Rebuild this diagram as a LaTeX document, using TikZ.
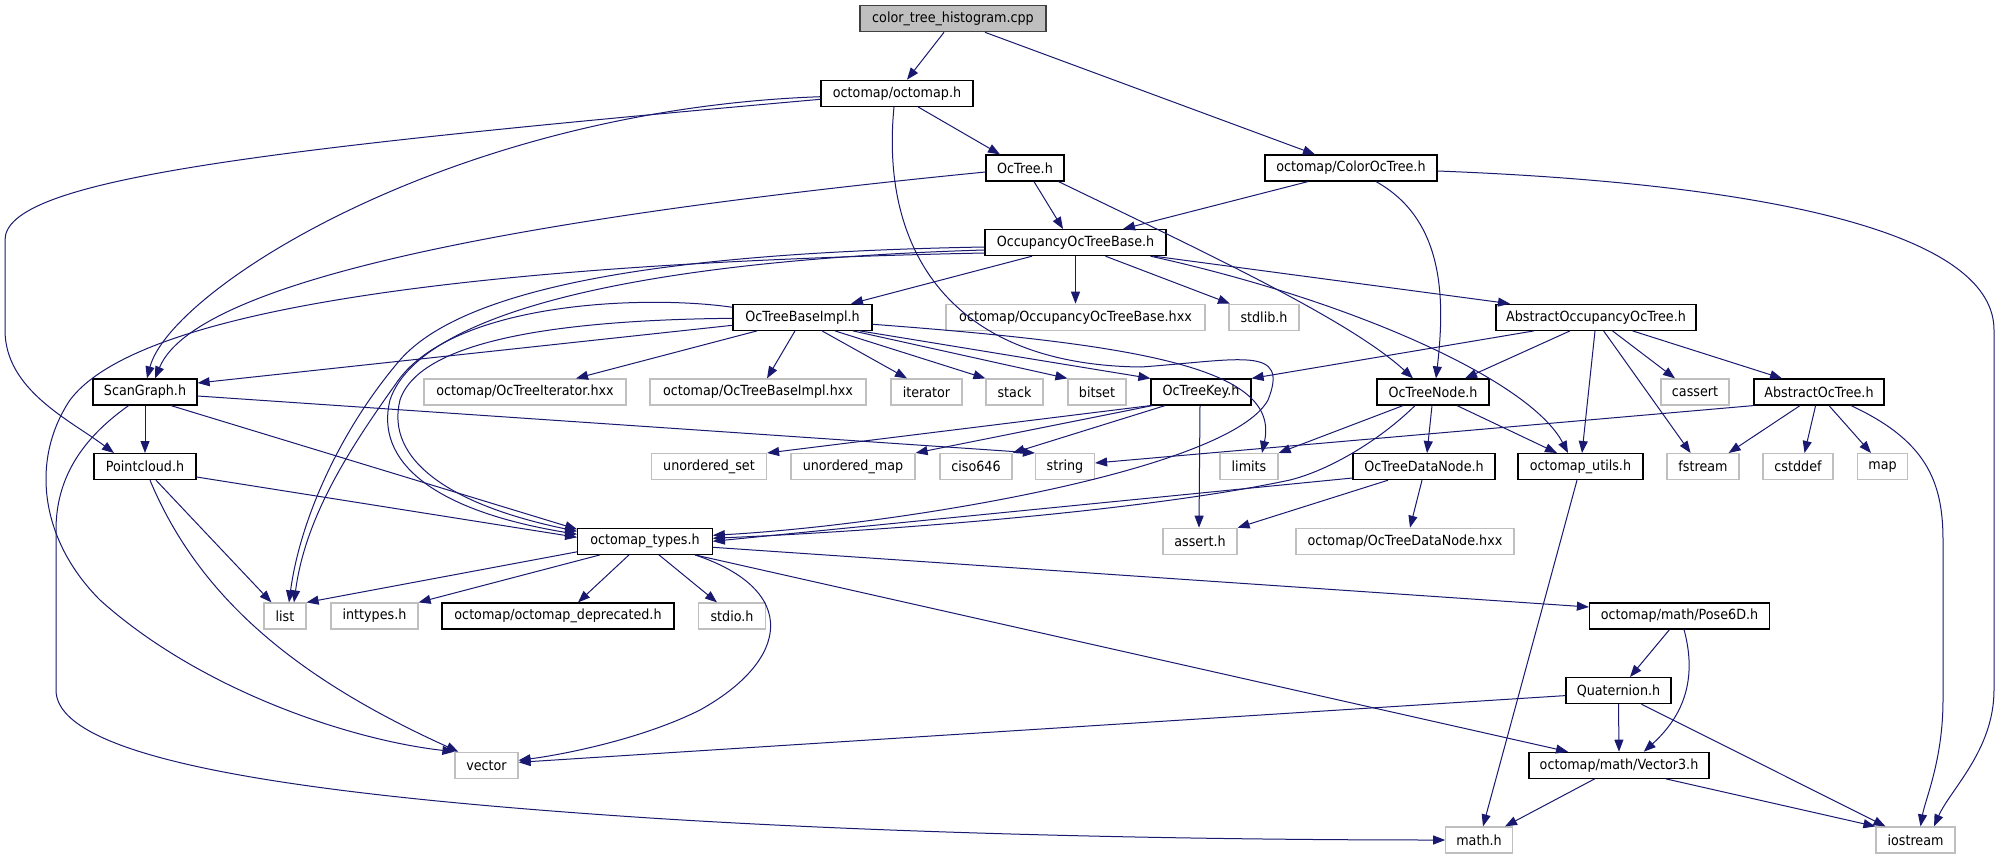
\documentclass[tikz,border=0pt]{standalone}
\usepackage{fontspec}
\newfontfamily\gvfont{DejaVu Sans}[FakeStretch=0.91]
\usetikzlibrary{arrows.meta}
\definecolor{edgeblue}{HTML}{191970}
\definecolor{lgrey}{HTML}{BFBFBF}
\definecolor{dgrey}{HTML}{404040}
\begin{document}
\begin{tikzpicture}[x=1pt,y=-1pt,
  box/.style={line width=1.2pt, minimum height=26pt, inner sep=0pt, font=\gvfont\fontsize{14pt}{16pt}\selectfont, anchor=center},
  doc/.style={box, draw=black},
  sys/.style={box, draw=lgrey},
  root/.style={box, draw=dgrey, fill=lgrey},
  conn/.style={draw=edgeblue, line width=1pt, -{Triangle[length=12pt,width=9pt]}},
]
\fill[white] (0,0) rectangle (2008,859);
\useasboundingbox (0,0) rectangle (2008,859);

% row 0
\node[root, minimum width=186pt] (cpp) at (953,18.7) {color\_tree\_histogram.cpp};
% row 1
\node[doc, minimum width=152pt] (octomap) at (897,93.3) {octomap/octomap.h};
% row 2
\node[doc, minimum width=78pt] (octree) at (1025,168) {OcTree.h};
\node[doc, minimum width=172pt] (color) at (1351,168) {octomap/ColorOcTree.h};
% row 3
\node[doc, minimum width=181pt] (occbase) at (1075.5,242.6) {OccupancyOcTreeBase.h};
% row 4
\node[doc, minimum width=139pt] (baseimpl) at (802.5,317.3) {OcTreeBaseImpl.h};
\node[sys, minimum width=259pt] (occhxx) at (1075.5,317.3) {octomap/OccupancyOcTreeBase.hxx};
\node[sys, minimum width=70pt] (stdlib) at (1264,317.3) {stdlib.h};
\node[doc, minimum width=200pt] (absocc) at (1596,317.3) {AbstractOccupancyOcTree.h};
% row 5
\node[doc, minimum width=104pt] (scangraph) at (145,392) {ScanGraph.h};
\node[sys, minimum width=202pt] (iterhxx) at (525,392) {octomap/OcTreeIterator.hxx};
\node[sys, minimum width=216pt] (implhxx) at (758,392) {octomap/OcTreeBaseImpl.hxx};
\node[sys, minimum width=71pt] (iterator) at (926.5,392) {iterator};
\node[sys, minimum width=57pt] (stack) at (1014.5,392) {stack};
\node[sys, minimum width=58pt] (bitset) at (1097,392) {bitset};
\node[doc, minimum width=100pt] (key) at (1201,392) {OcTreeKey.h};
\node[doc, minimum width=112pt] (treenode) at (1433,392) {OcTreeNode.h};
\node[sys, minimum width=68pt] (cassert) at (1695,392) {cassert};
\node[doc, minimum width=130pt] (absoctree) at (1819,392) {AbstractOcTree.h};
% row 6
\node[doc, minimum width=102pt] (pointcloud) at (145,466.6) {Pointcloud.h};
\node[sys, minimum width=115pt] (uset) at (709,466.6) {unordered\_set};
\node[sys, minimum width=124pt] (umap) at (853,466.6) {unordered\_map};
\node[sys, minimum width=72pt] (ciso) at (976,466.6) {ciso646};
\node[sys, minimum width=59pt] (string) at (1065,466.6) {string};
\node[sys, minimum width=58pt] (limits) at (1249,466.6) {limits};
\node[doc, minimum width=142pt] (datanode) at (1424,466.6) {OcTreeDataNode.h};
\node[doc, minimum width=125pt] (utils) at (1580.5,466.6) {octomap\_utils.h};
\node[sys, minimum width=72pt] (fstream) at (1703,466.6) {fstream};
\node[sys, minimum width=70pt] (cstddef) at (1798,466.6) {cstddef};
\node[sys, minimum width=50pt] (map) at (1882.6,466.6) {map};
% row 7
\node[doc, minimum width=134.5pt] (types) at (645,541.3) {octomap\_types.h};
\node[sys, minimum width=74pt] (assert) at (1200,541.3) {assert.h};
\node[sys, minimum width=218pt] (datahxx) at (1405,541.3) {octomap/OcTreeDataNode.hxx};
% row 8
\node[sys, minimum width=42pt] (list) at (285,616) {list};
\node[sys, minimum width=87pt] (inttypes) at (374.5,616) {inttypes.h};
\node[doc, minimum width=232pt] (deprecated) at (558,616) {octomap/octomap\_deprecated.h};
\node[sys, minimum width=66.5pt] (stdio) at (732,616) {stdio.h};
\node[doc, minimum width=180pt] (pose) at (1679.5,616) {octomap/math/Pose6D.h};
% row 9
\node[doc, minimum width=105pt] (quat) at (1618.5,690.6) {Quaternion.h};
% row 10
\node[sys, minimum width=63pt] (vector) at (486.5,765.3) {vector};
\node[doc, minimum width=180pt] (vec3) at (1619,765.3) {octomap/math/Vector3.h};
% row 11
\node[sys, minimum width=66.5pt] (math) at (1479,840) {math.h};
\node[sys, minimum width=79pt] (iostream) at (1915.5,840) {iostream};

% ---- edges ----
\draw[conn] ([xshift=-9pt]cpp.south) -- ([xshift=10pt]octomap.north);
\draw[conn] ([xshift=32pt]cpp.south) -- ([xshift=-36pt]color.north);
\draw[conn] ([xshift=21pt]octomap.south) -- ([xshift=-25pt]octree.north);
\draw[conn] ([yshift=-3.4pt]octomap.west) .. controls (450,110) and (170,290) .. ([xshift=2pt]scangraph.north);
\draw[conn] ([yshift=-6pt]octomap.west) .. controls (250,150) and (5,180) .. (5,240) -- (5,330) .. controls (5,390) and (70,420) .. ([xshift=-31pt]pointcloud.north);
\draw[conn] ([yshift=-4pt]octree.west) .. controls (600,210) and (200,270) .. ([xshift=10pt]scangraph.north);
\draw[conn] ([xshift=9pt]octree.south) -- ([xshift=-12.5pt]occbase.north);
\draw[conn] ([xshift=33.5pt]octree.south) .. controls (1200,250) and (1350,320) .. ([xshift=-20pt]treenode.north);
\draw[conn] ([xshift=-43pt]color.south) -- ([xshift=47.5pt]occbase.north);
\draw[conn] ([xshift=25pt]color.south) .. controls (1445,220) and (1445,300) .. ([xshift=3pt]treenode.north);
\draw[conn] ([yshift=-3pt]color.east) .. controls (1800,185) and (1994,240) .. (1994,330) -- (1994,690) .. controls (1994,750) and (1950,790) .. ([xshift=18.5pt]iostream.north);
\draw[conn] ([xshift=-43.5pt]occbase.south) -- ([xshift=48.5pt]baseimpl.north);
\draw[conn] (occbase.south) -- (occhxx.north);
\draw[conn] ([xshift=30pt]occbase.south) -- ([xshift=-34pt]stdlib.north);
\draw[conn] ([xshift=78.5pt]occbase.south) -- ([xshift=-86pt]absocc.north);
\draw[conn] ([xshift=75pt]occbase.south) .. controls (1350,300) and (1530,380) .. ([xshift=-12.5pt]utils.north);
\draw[conn] ([yshift=-4.4pt]occbase.west) .. controls (700,252) and (470,280) .. (400,360) .. controls (340,430) and (300,520) .. ([xshift=4pt]list.north);
\draw[conn] ([yshift=-7.4pt]occbase.west) .. controls (650,260) and (420,310) .. (390,400) .. controls (375,460) and (430,510) .. ([yshift=7pt]types.west);
\draw[conn] ([yshift=-10.4pt]occbase.west) .. controls (400,265) and (130,320) .. (70,400) .. controls (30,460) and (40,540) .. (100,600) .. controls (200,690) and (350,740) .. (vector.north west);
\draw[conn] ([yshift=10pt]baseimpl.west) .. controls (650,295) and (450,300) .. (395,385) .. controls (345,455) and (305,520) .. ([xshift=9pt]list.north);
\draw[conn] ([yshift=-1pt]baseimpl.west) .. controls (560,320) and (420,340) .. (400,400) .. controls (385,460) and (450,505) .. ([yshift=10pt]types.west);
\draw[conn] ([yshift=-8pt]baseimpl.west) -- ([yshift=9pt]scangraph.east);
\draw[conn] ([xshift=-45.5pt]baseimpl.south) -- ([xshift=51pt]iterhxx.north);
\draw[conn] ([xshift=-7.5pt]baseimpl.south) -- ([xshift=9pt]implhxx.north);
\draw[conn] ([xshift=19.5pt]baseimpl.south) -- ([xshift=-19.5pt]iterator.north);
\draw[conn] ([xshift=32.5pt]baseimpl.south) -- (stack.north west);
\draw[conn] ([xshift=50.5pt]baseimpl.south) -- (bitset.north west);
\draw[conn] ([xshift=57.5pt]baseimpl.south) -- (key.north west);
\draw[conn] ([yshift=-7pt]baseimpl.east) .. controls (1150,345) and (1280,370) .. ([xshift=13pt]limits.north);
\draw[conn] ([xshift=-3pt]octomap.south) .. controls (880,250) and (950,365) .. (1141,367) .. controls (1240,360) and (1290,345) .. (1268,400) .. controls (1230,470) and (900,525) .. ([yshift=6pt]types.east);
\draw[conn] (scangraph.south) -- (pointcloud.north);
\draw[conn] ([xshift=26pt]scangraph.south) -- ([yshift=12pt]types.west);
\draw[conn] ([yshift=-4pt]scangraph.east) -- (string.north west);
\draw[conn] ([xshift=-16.4pt]scangraph.south) .. controls (80,440) and (56,480) .. (56,530) -- (56,690) .. controls (56,760) and (300,795) .. (650,818) .. controls (900,834) and (1200,840) .. (math.west);
\draw[conn] ([yshift=-10.4pt]pointcloud.east) -- ([yshift=4pt]types.west);
\draw[conn] ([xshift=11pt]pointcloud.south) -- ([xshift=8pt]list.north west);
\draw[conn] ([xshift=5pt]pointcloud.south) .. controls (200,600) and (300,680) .. ([xshift=4pt]vector.north west);
\draw[conn] ([yshift=-10.5pt]types.west) -- (list.north east);
\draw[conn] ([xshift=-45pt]types.south) -- (inttypes.north east);
\draw[conn] ([xshift=-16pt]types.south) -- ([xshift=20pt]deprecated.north);
\draw[conn] ([xshift=14pt]types.south) -- ([xshift=-15pt]stdio.north);
\draw[conn] ([xshift=50pt]types.south) .. controls (800,590) and (790,660) .. (700,710) .. controls (640,740) and (560,755) .. ([yshift=5pt]vector.east);
\draw[conn] ([xshift=50pt]types.south) -- ([xshift=-51pt]vec3.north);
\draw[conn] ([yshift=-6pt]types.east) -- ([yshift=9pt]pose.west);
\draw[conn] (key.south west) -- (uset.north east);
\draw[conn] ([xshift=2pt]key.south west) -- (umap.north east);
\draw[conn] ([xshift=-36pt]key.south) -- (ciso.north east);
\draw[conn] ([xshift=-1pt]key.south) -- ([xshift=-1pt]assert.north);
\draw[conn] ([xshift=-30pt]treenode.south) -- (limits.north east);
\draw[conn] ([xshift=-18pt]treenode.south) .. controls (1380,440) and (1330,470) .. (1290,480) .. controls (1150,510) and (900,530) .. ([yshift=3pt]types.east);
\draw[conn] ([xshift=-1pt]treenode.south) -- ([xshift=3pt]datanode.north);
\draw[conn] ([xshift=24pt]treenode.south) -- ([xshift=-23.5pt]utils.north);
\draw[conn] ([yshift=-11.4pt]datanode.west) -- (types.east);
\draw[conn] ([xshift=-36pt]datanode.south) -- (assert.north east);
\draw[conn] ([xshift=-2pt]datanode.south) -- ([xshift=5pt]datahxx.north);
\draw[conn] ([xshift=-62pt]absocc.south) -- (key.north east);
\draw[conn] ([xshift=-26pt]absocc.south) -- ([xshift=32pt]treenode.north);
\draw[conn] ([xshift=-1pt]absocc.south) -- ([xshift=1.5pt]utils.north);
\draw[conn] ([xshift=7.6pt]absocc.south) -- ([xshift=-12.4pt]fstream.north);
\draw[conn] ([xshift=16.5pt]absocc.south) -- ([xshift=-20pt]cassert.north);
\draw[conn] ([xshift=36.6pt]absocc.south) -- ([xshift=-37pt]absoctree.north);
\draw[conn] (absoctree.south west) -- ([yshift=3.6pt]string.east);
\draw[conn] ([xshift=-19pt]absoctree.south) -- ([xshift=25.6pt]fstream.north);
\draw[conn] ([xshift=-3.4pt]absoctree.south) -- ([xshift=6.5pt]cstddef.north);
\draw[conn] ([xshift=10pt]absoctree.south) -- ([xshift=-11.6pt]map.north);
\draw[conn] ([xshift=32pt]absoctree.south) .. controls (1925,440) and (1943,480) .. (1943,540) -- (1943,700) .. controls (1943,760) and (1925,800) .. ([xshift=5pt]iostream.north);
\draw[conn] ([xshift=-3.5pt]utils.south) -- ([xshift=4pt]math.north);
\draw[conn] ([xshift=-10pt]pose.south) -- ([xshift=11.5pt]quat.north);
\draw[conn] ([xshift=4.5pt]pose.south) .. controls (1695,670) and (1690,710) .. ([xshift=24.75pt]vec3.north);
\draw[conn] (quat.south) -- (vec3.north);
\draw[conn] ([xshift=23pt]quat.south) -- ([xshift=-30pt]iostream.north);
\draw[conn] ([yshift=-5pt]quat.west) -- ([yshift=3pt]vector.east);
\draw[conn] ([xshift=-24.4pt]vec3.south) -- ([xshift=26pt]math.north);
\draw[conn] ([xshift=47pt]vec3.south) -- (iostream.north west);
\end{tikzpicture}
\end{document}
